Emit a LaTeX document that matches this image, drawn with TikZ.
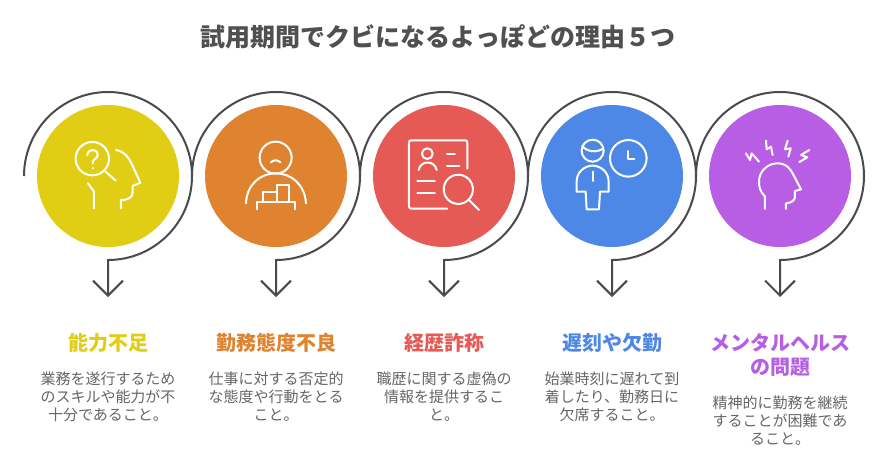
\documentclass[tikz,border=0pt]{standalone}
\usepackage{fontspec}
\setmainfont{Noto Sans CJK JP}
\usetikzlibrary{arrows.meta}
\definecolor{cyellow}{HTML}{E1CE14}
\definecolor{corange}{HTML}{DF8330}
\definecolor{cred}{HTML}{E65A55}
\definecolor{cblue}{HTML}{4E88E6}
\definecolor{cpurple}{HTML}{B85EE5}
\definecolor{linegray}{HTML}{4A4A4A}
\definecolor{titlegray}{HTML}{505050}
\definecolor{bodygray}{HTML}{666666}
\tikzset{
  disc/.style={circle,draw=none,fill=#1,minimum size=142pt,inner sep=0pt},
  flow/.style={draw=linegray,line width=2pt,-{Straight Barb[length=15pt,width=30pt,line width=2pt]}},
  heading/.style={text=#1,font=\fontsize{20}{24}\selectfont\bfseries,align=center,inner sep=0pt},
  bodytext/.style={text=bodygray,font=\fontsize{15}{18}\selectfont,align=center,inner sep=0pt},
  icon/.style={draw=white,line width=2pt,line cap=round,line join=round},
}
\begin{document}
\begin{tikzpicture}[x=1pt,y=-1pt]
\path[use as bounding box,fill=white] (0,0) rectangle (887,472);
\node[text=titlegray,font=\fontsize{25}{30}\selectfont\bfseries,inner sep=0pt] (title) at (438,37) {試用期間でクビになるよっぽどの理由５つ};
% discs
\node[disc=cyellow] (c1) at (108,176) {};
\node[disc=corange] (c2) at (276,176) {};
\node[disc=cred] (c3) at (444,176) {};
\node[disc=cblue] (c4) at (612,176) {};
\node[disc=cpurple] (c5) at (780,176) {};
% connectors
\foreach \n/\cx in {1/108,2/276,3/444,4/612,5/780}{
  \coordinate (s\n) at ([xshift=-84pt]c\n.center);
  \coordinate (e\n) at ([yshift=-121pt]c\n.center);
  \draw[flow] (s\n) arc[start angle=180,end angle=-90,radius=84pt] -- (e\n);
}
% headings and bodies
\node[heading=cyellow] (h1) at (108,343) {能力不足};
\node[heading=corange] (h2) at (276,343) {勤務態度不良};
\node[heading=cred] (h3) at (444,343) {経歴詐称};
\node[heading=cblue] (h4) at (612,343) {遅刻や欠勤};
\node[heading=cpurple] (h5) at (780,355) {メンタルヘルス\\の問題};
\node[bodytext] (t1) at (108,397) {業務を遂行するため\\のスキルや能力が不\\十分であること。};
\node[bodytext] (t2) at (276,397) {仕事に対する否定的\\な態度や行動をとる\\こと。};
\node[bodytext] (t3) at (444,397) {職歴に関する虚偽の\\情報を提供するこ\\と。};
\node[bodytext] (t4) at (612,397) {始業時刻に遅れて到\\着したり、勤務日に\\欠席すること。};
\node[bodytext] (t5) at (780,421) {精神的に勤務を継続\\することが困難であ\\ること。};
% icon 1
\begin{scope}[shift={(10,80)},x=0.3333pt,y=-0.3333pt,icon]
\draw (247,236) circle[radius=16.7pt];
\draw (287,275) -- (317,302);
\draw (232,226) .. controls (233,205) and (263,205) .. (263,225) .. controls (263,238) and (248,235) .. (248,250);
\draw (248,264) -- (248,265);
\draw (318,210) .. controls (345,215) and (358,235) .. (368,258) -- (391,308) -- (368,318) -- (368,338) .. controls (368,352) and (355,360) .. (333,360) -- (333,385);
\draw (234,310) -- (252,335) -- (252,385);
% icon 2
\draw (797,233) circle[radius=16pt];
\draw (783,247) .. controls (790,239) and (804,239) .. (811,247);
\draw (708,370) .. controls (710,315) and (750,280) .. (797,280) .. controls (845,280) and (885,315) .. (888,370);
\draw (740,388) -- (740,366) -- (855,366) -- (855,388);
\draw (758,366) -- (758,336) -- (802,336);
\draw (802,366) -- (802,316) -- (838,316) -- (838,366);
\end{scope}
% icons 3 and 4
\begin{scope}[shift={(350,80)},x=0.3333pt,y=-0.3333pt,icon]
\draw (292,386) -- (185,386) .. controls (179,386) and (177,384) .. (177,378) -- (177,188) .. controls (177,183) and (179,181) .. (185,181) -- (345,181) .. controls (350,181) and (352,183) .. (352,188) -- (352,266);
\draw (232,221) circle[radius=5.4pt];
\draw (206,270) .. controls (212,240) and (254,240) .. (260,270);
\draw (291,221) -- (315,221);
\draw (291,257) -- (328,257);
\draw (202,303) -- (255,303);
\draw (202,340) -- (255,340);
\draw (325,328) circle[radius=14.6pt];
\draw (357,360) -- (387,390);
% icon 4
\draw (728,212) circle[radius=11pt];
\draw (697,198) .. controls (710,215) and (740,220) .. (760,205);
\draw (835,235) circle[radius=18.3pt];
\draw (835,213) -- (835,238) -- (853,238);
\draw (707,335) -- (680,335) -- (680,305) .. controls (680,275) and (705,257) .. (728,257) .. controls (751,257) and (776,275) .. (776,305) -- (776,335) -- (750,335) -- (747,388) -- (710,388) -- cycle;
\draw (728,275) -- (728,303);
\end{scope}
% icon 5
\begin{scope}[shift={(690,80)},x=0.3333pt,y=-0.3333pt,icon]
\draw (225,387) -- (225,350) .. controls (212,335) and (207,325) .. (207,305) .. controls (207,272) and (235,250) .. (262,250) .. controls (290,250) and (303,268) .. (312,288) -- (333,328) -- (315,333) -- (315,350) .. controls (314,362) and (305,368) .. (288,370) -- (288,387);
\draw (168,220) -- (180,240) -- (185,220) -- (207,245);
\draw (228,182) -- (230,208) -- (243,200) -- (248,225);
\draw (293,182) -- (285,208) -- (302,205) -- (295,230);
\draw (358,210) -- (333,225) -- (352,232) -- (328,246);
\end{scope}
\end{tikzpicture}
\end{document}
